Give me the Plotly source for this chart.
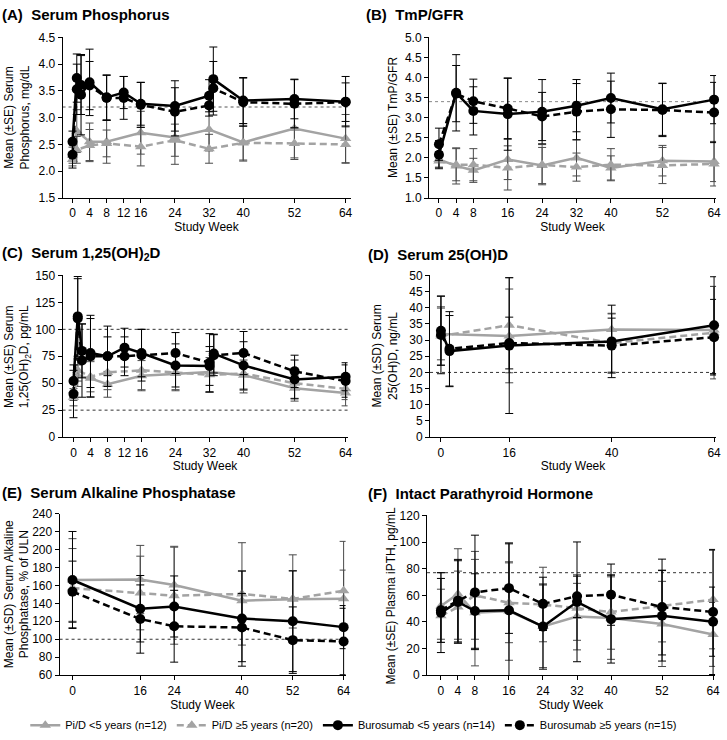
import plotly.graph_objects as go

W, H = 727, 740

# ---------------- data ----------------
# Panel A: Serum Phosphorus (mg/dL), mean ± SE
a_wk_bur = [0, 1, 2, 4, 8, 12, 16, 24, 32, 33, 40, 52, 64]
a_wk_pid = [0, 1, 4, 8, 16, 24, 32, 40, 52, 64]
a_bur_lt5 = [2.55, 3.74, 3.43, 3.66, 3.38, 3.47, 3.26, 3.22, 3.41, 3.72, 3.32, 3.35, 3.30]
a_bur_lt5_e = [0.2, 0.45, 0.75, 0.62, 0.42, 0.3, 0.4, 0.47, 0.3, 0.6, 0.43, 0.37, 0.47]
a_bur_ge5 = [2.31, 3.53, 3.61, 3.60, 3.37, 3.37, 3.24, 3.11, 3.23, 3.55, 3.29, 3.26, 3.29]
a_bur_ge5_e = [0.25, 0.47, 0.55, 0.45, 0.42, 0.4, 0.42, 0.45, 0.2, 0.5, 0.45, 0.45, 0.36]
a_pid_lt5 = [2.22, 2.75, 2.55, 2.55, 2.72, 2.63, 2.78, 2.54, 2.80, 2.61]
a_pid_lt5_e = [0.12, 0.4, 0.35, 0.4, 0.4, 0.5, 0.4, 0.35, 0.55, 0.45]
a_pid_ge5 = [2.30, 2.40, 2.48, 2.52, 2.46, 2.58, 2.42, 2.53, 2.52, 2.50]
a_pid_ge5_e = [0.15, 0.25, 0.3, 0.25, 0.36, 0.3, 0.27, 0.32, 0.3, 0.35]

# Panel B: TmP/GFR, mean ± SE
b_wk = [0, 4, 8, 16, 24, 32, 40, 52, 64]
b_bur_lt5 = [2.08, 3.62, 3.17, 3.09, 3.15, 3.30, 3.49, 3.21, 3.45]
b_bur_lt5_e = [0.35, 0.95, 0.6, 0.9, 0.8, 0.65, 0.62, 0.65, 0.6]
b_bur_ge5 = [2.34, 3.60, 3.41, 3.23, 3.03, 3.15, 3.21, 3.19, 3.13]
b_bur_ge5_e = [0.4, 0.7, 0.55, 0.75, 0.6, 0.7, 0.7, 0.66, 0.75]
b_pid_lt5 = [1.96, 1.80, 1.69, 1.96, 1.81, 2.00, 1.75, 1.93, 1.91]
b_pid_lt5_e = [0.2, 0.45, 0.3, 0.5, 0.45, 0.45, 0.3, 0.38, 0.5]
b_pid_ge5 = [1.92, 1.83, 1.83, 1.75, 1.83, 1.77, 1.83, 1.81, 1.85]
b_pid_ge5_e = [0.15, 0.4, 0.4, 0.55, 0.5, 0.35, 0.4, 0.45, 0.55]

# Panel C: Serum 1,25(OH)2D (pg/mL), mean ± SE
c_wk_bur = [0, 1, 2, 4, 8, 12, 16, 24, 32, 33, 40, 52, 64]
c_wk_pid = [0, 1, 4, 8, 16, 24, 32, 40, 52, 64]
c_bur_lt5 = [52, 112, 80, 78, 75, 83, 78, 66.5, 66, 77.5, 66.5, 53.5, 56]
c_bur_lt5_e = [15, 37, 25, 32, 28, 18, 22, 20, 18, 18, 22, 18, 13]
c_bur_ge5 = [40, 110, 71, 75, 75, 75, 76, 78, 69, 76, 78, 61, 52]
c_bur_ge5_e = [22, 37, 34, 38, 18, 18, 24, 19, 27, 19, 20, 15, 15]
c_pid_lt5 = [37, 57, 54.5, 49, 57, 59, 60.5, 57.5, 45.4, 41]
c_pid_lt5_e = [8, 10, 17, 12, 14, 16, 19, 14, 12, 12]
c_pid_ge5 = [43, 62, 56, 60, 62, 60, 57.8, 59, 50, 44.8]
c_pid_ge5_e = [9, 10, 14, 16, 18, 16, 16, 18, 14, 10]

# Panel D: Serum 25(OH)D (ng/mL), mean ± SD
d_wk_bur = [0, 2, 16, 40, 64]
d_wk_pid = [0, 16, 40, 64]
d_bur_lt5 = [32.9, 26.6, 28.3, 29.6, 34.6]
d_bur_lt5_e = [10.7, 11, 21, 11.2, 15]
d_bur_ge5 = [31.6, 27.3, 29.1, 28.3, 30.9]
d_bur_ge5_e = [12, 11.5, 8, 8.5, 11.7]
d_pid_lt5 = [31.9, 31.3, 33.3, 33.1]
d_pid_lt5_e = [8, 14.5, 5, 13.5]
d_pid_ge5 = [31.3, 34.6, 29.1, 32.3]
d_pid_ge5_e = [9, 14.7, 9, 14.3]

# Panel E: Serum Alkaline Phosphatase (% of ULN), mean ± SD
e_wk = [0, 16, 24, 40, 52, 64]
e_bur_lt5 = [166, 134, 136.5, 123, 120, 113.5]
e_bur_lt5_e = [54, 37, 34, 53, 56, 24]
e_bur_ge5 = [153, 122.5, 114.5, 113, 99, 97.5]
e_bur_ge5_e = [34, 38, 40, 38, 37, 37]
e_pid_lt5 = [166, 166.5, 160.5, 143, 144.5, 145]
e_pid_lt5_e = [46, 38, 43, 33, 32, 32]
e_pid_ge5 = [157, 151.5, 148.5, 150.5, 145, 154]
e_pid_ge5_e = [44, 41, 54, 57, 49, 55]

# Panel F: Intact PTH (pg/mL), mean ± SE
f_wk = [0, 4, 8, 16, 24, 32, 40, 52, 64]
f_bur_lt5 = [47, 55, 48.2, 48.7, 36.5, 55.1, 42.1, 44.6, 40.2]
f_bur_lt5_e = [30, 31, 28, 50, 32, 45, 33, 34, 26]
f_bur_ge5 = [48.7, 56, 62.2, 65.4, 53.6, 59.3, 60.5, 51.2, 47.5]
f_bur_ge5_e = [24, 31, 43, 34, 20, 16, 23, 36, 47]
f_pid_lt5 = [52, 61, 47, 48.2, 36.7, 44, 42.9, 38.5, 30.6]
f_pid_lt5_e = [25, 34, 40, 37, 31, 25, 31, 32, 24]
f_pid_ge5 = [44.6, 51.2, 60, 54.4, 53.1, 50.2, 47.5, 52, 56.8]
f_pid_ge5_e = [20, 27, 33, 30, 28, 24, 28, 27, 37]

series_names = ["Pi/D <5 years (n=12)", "Pi/D ≥5 years (n=20)",
                "Burosumab <5 years (n=14)", "Burosumab ≥5 years (n=15)"]

panels = [
    dict(title="(A)  Serum Phosphorus", ytitle="Mean (±SE) Serum<br>Phosphorus, mg/dL",
         wb=a_wk_bur, wp=a_wk_pid,
         data=[(a_pid_lt5, a_pid_lt5_e), (a_pid_ge5, a_pid_ge5_e), (a_bur_lt5, a_bur_lt5_e), (a_bur_ge5, a_bur_ge5_e)],
         xt=[0, 4, 8, 12, 16, 24, 32, 40, 52, 64], yt=[1.5, 2.0, 2.5, 3.0, 3.5, 4.0, 4.5], yfmt=".1f",
         yr=[1.5, 4.5], refs=[3.2], refcol="#555555",
         px=(63, 353, 31, 195), x0px=73, x64px=348),
    dict(title="(B)  TmP/GFR", ytitle="Mean (±SE) TmP/GFR",
         wb=b_wk, wp=b_wk,
         data=[(b_pid_lt5, b_pid_lt5_e), (b_pid_ge5, b_pid_ge5_e), (b_bur_lt5, b_bur_lt5_e), (b_bur_ge5, b_bur_ge5_e)],
         xt=[0, 4, 8, 16, 24, 32, 40, 52, 64], yt=[1.0, 1.5, 2.0, 2.5, 3.0, 3.5, 4.0, 4.5, 5.0], yfmt=".1f",
         yr=[1.0, 5.0], refs=[3.4], refcol="#888888",
         px=(432, 721, 31, 195), x0px=442, x64px=719),
    dict(title="(C)  Serum 1,25(OH)<sub>2</sub>D", ytitle="Mean (±SE) Serum<br>1,25(OH)<sub>2</sub>D, pg/mL",
         wb=c_wk_bur, wp=c_wk_pid,
         data=[(c_pid_lt5, c_pid_lt5_e), (c_pid_ge5, c_pid_ge5_e), (c_bur_lt5, c_bur_lt5_e), (c_bur_ge5, c_bur_ge5_e)],
         xt=[0, 4, 8, 12, 16, 24, 32, 40, 52, 64], yt=[0, 25, 50, 75, 100, 125, 150], yfmt="d",
         yr=[0, 150], refs=[100, 25], refcol="#333333",
         px=(63, 350, 274, 439), x0px=74, x64px=348),
    dict(title="(D)  Serum 25(OH)D", ytitle="Mean (±SD) Serum<br>25(OH)D, ng/mL",
         wb=d_wk_bur, wp=d_wk_pid,
         data=[(d_pid_lt5, d_pid_lt5_e), (d_pid_ge5, d_pid_ge5_e), (d_bur_lt5, d_bur_lt5_e), (d_bur_ge5, d_bur_ge5_e)],
         xt=[0, 16, 40, 64], yt=list(range(0, 51, 5)), yfmt="d",
         yr=[0, 50], refs=[20], refcol="#333333",
         px=(433, 721, 274, 439), x0px=444, x64px=719),
    dict(title="(E)  Serum Alkaline Phosphatase", ytitle="Mean (±SD) Serum Alkaline<br>Phosphatase, % of ULN",
         wb=e_wk, wp=e_wk,
         data=[(e_pid_lt5, e_pid_lt5_e), (e_pid_ge5, e_pid_ge5_e), (e_bur_lt5, e_bur_lt5_e), (e_bur_ge5, e_bur_ge5_e)],
         xt=[0, 16, 24, 40, 52, 64], yt=list(range(60, 241, 20)), yfmt="d",
         yr=[60, 240], refs=[100], refcol="#333333",
         px=(60, 348, 517, 682), x0px=73, x64px=346),
    dict(title="(F)  Intact Parathyroid Hormone", ytitle="Mean (±SE) Plasma iPTH, pg/mL",
         wb=f_wk, wp=f_wk,
         data=[(f_pid_lt5, f_pid_lt5_e), (f_pid_ge5, f_pid_ge5_e), (f_bur_lt5, f_bur_lt5_e), (f_bur_ge5, f_bur_ge5_e)],
         xt=[0, 4, 8, 16, 24, 32, 40, 52, 64], yt=list(range(0, 121, 20)), yfmt="d",
         yr=[0, 120], refs=[77], refcol="#333333",
         px=(430, 720, 519, 682), x0px=444, x64px=718),
]

title_pos = [(0, 8), (367, 8), (0, 252), (369, 253), (0, 496), (369, 497)]
ytitle_x = [17, 395, 17, 388, 17, 394]

GREY = "#a3a3a3"
FONT = "Liberation Sans, Arial, sans-serif"

styles = [
    dict(color=GREY, dash="solid", symbol="triangle-up", ecol="#4a4a4a"),
    dict(color=GREY, dash="7px,4px", symbol="triangle-up", ecol="#4a4a4a"),
    dict(color="black", dash="solid", symbol="circle", ecol="black"),
    dict(color="black", dash="7px,4px", symbol="circle", ecol="black"),
]

fig = go.Figure()
layout = dict(width=W, height=H, margin=dict(l=0, r=0, t=0, b=0),
              paper_bgcolor="white", plot_bgcolor="white",
              font=dict(family=FONT, size=12, color="black"),
              showlegend=True,
              legend=dict(orientation="h", x=0.49, xanchor="center", y=1 - 733 / H, yanchor="middle",
                          font=dict(size=11), itemwidth=30, tracegroupgap=0),
              shapes=[], annotations=[])

for i, p in enumerate(panels):
    n = i + 1
    xa = "x" if n == 1 else f"x{n}"
    ya = "y" if n == 1 else f"y{n}"
    l, r, t, b = p["px"]
    ppu = (p["x64px"] - p["x0px"]) / 64.0
    xr = [(l - p["x0px"]) / ppu, (r - p["x0px"]) / ppu]
    layout[f"xaxis{'' if n == 1 else n}"] = dict(
        domain=[l / W, r / W], range=xr, anchor=ya,
        tickmode="array", tickvals=p["xt"], ticks="outside", ticklen=4, tickcolor="black",
        showline=True, linecolor="black", linewidth=1, showgrid=False, zeroline=False,
        tickfont=dict(size=12), title=dict(text="Study Week", font=dict(size=12), standoff=0))
    layout[f"yaxis{'' if n == 1 else n}"] = dict(
        domain=[1 - b / H, 1 - t / H], range=p["yr"], anchor=xa,
        tickmode="array", tickvals=p["yt"], tickformat=p["yfmt"], ticks="outside", ticklen=4,
        tickcolor="black", showline=True, linecolor="black", linewidth=1, showgrid=False,
        zeroline=False, tickfont=dict(size=12))
    for ref in p["refs"]:
        layout["shapes"].append(dict(type="line", xref=f"{xa} domain", yref=ya, x0=0, x1=1, y0=ref, y1=ref,
                                     line=dict(color=p["refcol"], width=1, dash="dot"), layer="below"))
    tx, ty = title_pos[i]
    layout["annotations"].append(dict(text=f"<b>{p['title']}</b>", xref="paper", yref="paper",
                                      x=tx / W, y=1 - ty / H, xanchor="left", yanchor="middle",
                                      showarrow=False, font=dict(size=15)))
    layout["annotations"].append(dict(text=p["ytitle"], xref="paper", yref="paper",
                                      x=ytitle_x[i] / W, y=1 - (t + b) / 2 / H, xanchor="center",
                                      yanchor="middle", textangle=-90, showarrow=False,
                                      font=dict(size=12)))
    for k, (vals, errs) in enumerate(p["data"]):
        st = styles[k]
        weeks = p["wp"] if k < 2 else p["wb"]
        fig.add_trace(go.Scatter(
            x=weeks, y=vals, xaxis=xa, yaxis=ya, mode="lines+markers",
            name=series_names[k], legendgroup=series_names[k], showlegend=(i == 0),
            line=dict(color=st["color"], width=2.5, dash=st["dash"]),
            marker=dict(symbol=st["symbol"], size=10, color=st["color"]),
            error_y=dict(type="data", array=errs, symmetric=True, color=st["ecol"],
                         thickness=1, width=4),
            cliponaxis=False))

fig.update_layout(**layout)
fig.write_html("out.html", config={"displayModeBar": False},
               post_script="document.body.style.margin='0px';document.body.style.overflow='hidden';")
